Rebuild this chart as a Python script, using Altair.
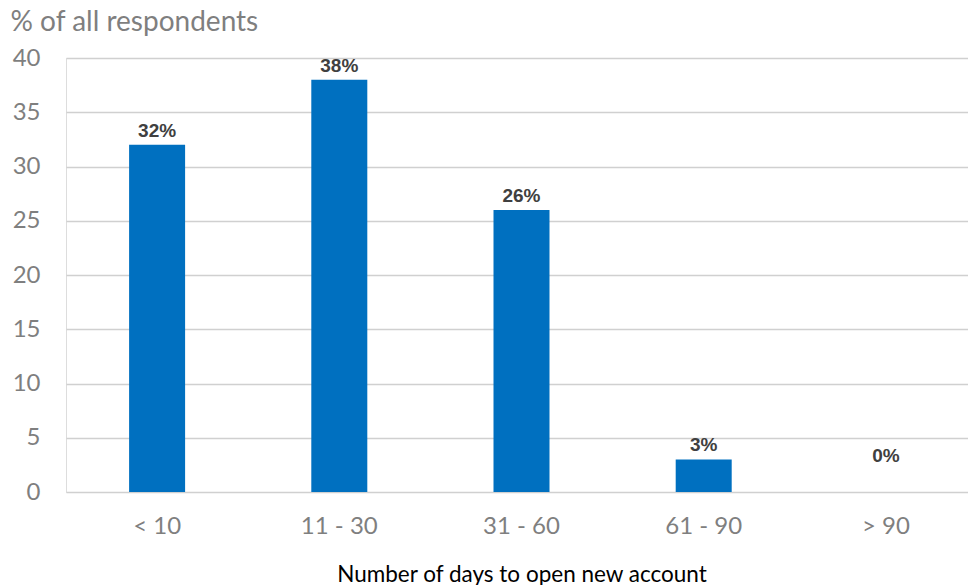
import altair as alt
import pandas as pd

# Share of respondents by number of days needed to open a new account
categories = ["< 10", "11 - 30", "31 - 60", "61 - 90", "> 90"]
shares = [32, 38, 26, 3, 0]

df = pd.DataFrame({"days": categories, "pct": shares})

FONT = "Lato"
GRAY = "#7f7f7f"

x_enc = alt.X(
    "days:N",
    sort=categories,
    scale=alt.Scale(range=[0, 911], paddingInner=0, paddingOuter=0),
    axis=alt.Axis(
        title="Number of days to open new account",
        titleFont=FONT,
        titleFontSize=22.5,
        titleFontWeight="normal",
        titleColor="#000000",
        titleY=89,
        titleBaseline="alphabetic",
        labelFont=FONT,
        labelFontSize=24,
        labelColor=GRAY,
        labelPadding=22,
        labelAngle=0,
        ticks=False,
        domain=False,
        grid=False,
    ),
)

y_enc = alt.Y(
    "pct:Q",
    scale=alt.Scale(domain=[0, 40], nice=False),
    axis=alt.Axis(
        values=[0, 5, 10, 15, 20, 25, 30, 35, 40],
        title="% of all respondents",
        titleAngle=0,
        titleAlign="left",
        titleBaseline="alphabetic",
        titleX=-56,
        titleY=-28,
        titleFont=FONT,
        titleFontSize=28,
        titleFontWeight="normal",
        titleColor=GRAY,
        labelFont=FONT,
        labelFontSize=24,
        labelColor=GRAY,
        labelPadding=26,
        ticks=False,
        domain=False,
        grid=True,
        gridColor="#d0d0d0",
        gridWidth=1.5,
    ),
)

bars = alt.Chart(df).mark_bar(color="#0070c0", size=56).encode(x=x_enc, y=y_enc)

labels = (
    alt.Chart(df)
    .transform_calculate(
        text="datum.pct + '%'",
        anchor="max(datum.pct, 2)",
    )
    .mark_text(
        font="Liberation Sans",
        fontSize=19,
        fontWeight="bold",
        color="#404040",
        baseline="bottom",
        dy=-4,
    )
    .encode(
        x=alt.X("days:N", sort=categories),
        y=alt.Y("anchor:Q"),
        text="text:N",
    )
)

chart = (
    alt.layer(bars, labels)
    .properties(
        width=902,
        height=434,
        autosize=alt.AutoSizeParams(type="none"),
        padding={"left": 66, "top": 58, "right": 0, "bottom": 93},
    )
    .configure_view(stroke=None)
    .configure(background="white")
)

chart.save("out.html", embed_options={"renderer": "svg", "actions": False})
